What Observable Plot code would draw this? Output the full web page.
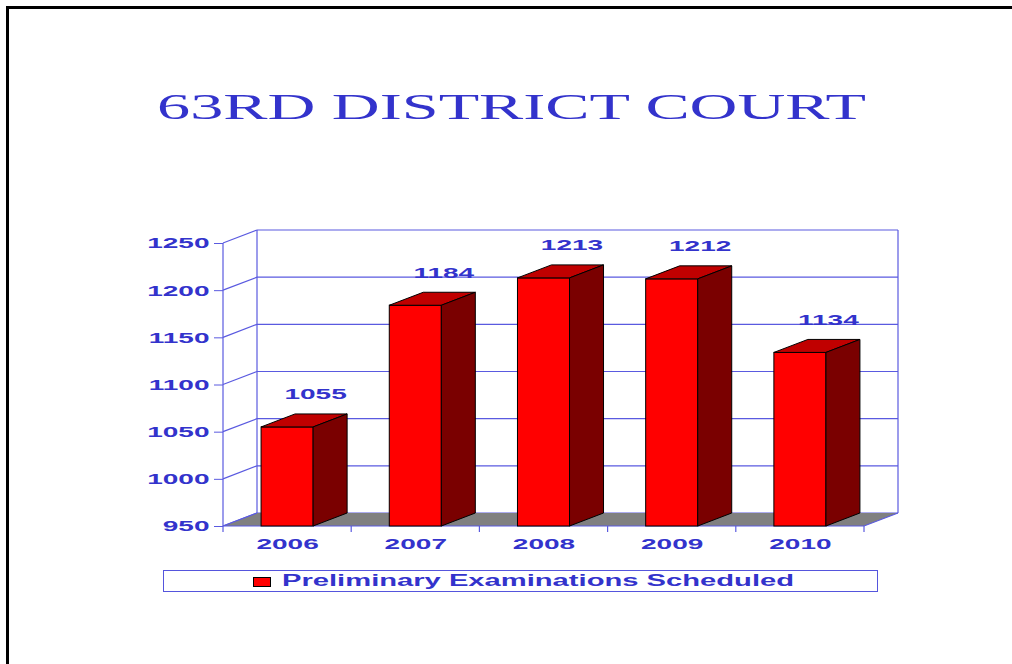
<!DOCTYPE html>
<html>
<head>
<meta charset="utf-8">
<script src="https://cdn.jsdelivr.net/npm/d3@7"></script>
<script src="https://cdn.jsdelivr.net/npm/@observablehq/plot@0.6"></script>
<style>
  html, body { margin: 0; padding: 0; background: #fff; }
  #page { position: relative; width: 1012px; height: 664px; overflow: hidden; background: #fff; }
  #frameTop { position: absolute; left: 6px; top: 6px; right: 0; height: 3px; background: #000; }
  #frameLeft { position: absolute; left: 6px; top: 6px; bottom: 0; width: 3px; background: #000; }
  #title { position: absolute; left: 0; top: 0; margin: 0; white-space: nowrap;
           font-family: "Liberation Serif", "Times New Roman", serif; font-weight: normal;
           font-size: 36px; line-height: 36px; color: #3333cc; transform-origin: 0 0; }
  #chart { position: absolute; left: 0; top: 190px; }
  #legend { position: absolute; left: 163px; top: 570px; width: 713px; height: 20px; border: 1px solid #5555dd; background: #fff; }
  #swatch { position: absolute; left: 89px; top: 6px; width: 16px; height: 8px; border: 1px solid #000; background: #ff0000; }
  #legendText { position: absolute; left: 118px; top: 2px; white-space: nowrap;
                font-family: "Liberation Sans", Arial, sans-serif; font-weight: bold;
                font-size: 16px; line-height: 16px; color: #3333cc; transform-origin: 0 0; }
</style>
</head>
<body>
<div id="page">
  <div id="frameTop"></div>
  <div id="frameLeft"></div>
  <h1 id="title"></h1>
  <div id="chart"></div>
  <div id="legend"><div id="swatch"></div><span id="legendText"></span></div>
</div>
<script>
// ---- data ----
const titleText = "63RD DISTRICT COURT";
const seriesLabel = "Preliminary Examinations Scheduled";
const years = ["2006", "2007", "2008", "2009", "2010"];
const values = [1055, 1184, 1213, 1212, 1134];
const yTicks = [950, 1000, 1050, 1100, 1150, 1200, 1250];

// ---- styling constants ----
const BLUE = "#3333cc";
const GRID = "#5a5ae0";
const DX = 34, DY = -13;           // 3D depth offset in pixels
const STRETCH = 1.82;              // horizontal stretch of the lettering

const data = years.map((year, i) => ({year, value: values[i]}));

// walls, floor and axis frame of the 3D box
function box(index, scales) {
  const {x, y} = scales;
  const [x0, x1] = x.range();
  const yb = y(yTicks[0]), yt = y(yTicks[yTicks.length - 1]);
  const g = d3.create("svg:g").attr("fill", "none").attr("stroke", GRID).attr("stroke-width", 1.2);
  for (const t of yTicks) {
    const yy = y(t);
    g.append("line").attr("x1", x0 + DX).attr("x2", x1 + DX).attr("y1", yy + DY).attr("y2", yy + DY);
    g.append("line").attr("x1", x0).attr("x2", x0 + DX).attr("y1", yy).attr("y2", yy + DY);
  }
  g.append("line").attr("x1", x0 + DX).attr("x2", x0 + DX).attr("y1", yt + DY).attr("y2", yb + DY);
  g.append("line").attr("x1", x1 + DX).attr("x2", x1 + DX).attr("y1", yt + DY).attr("y2", yb + DY);
  g.append("line").attr("x1", x0).attr("x2", x0).attr("y1", yt).attr("y2", yb);
  // floor
  g.append("path")
    .attr("d", `M${x0},${yb}L${x1},${yb}L${x1 + DX},${yb + DY}L${x0 + DX},${yb + DY}Z`)
    .attr("fill", "#808080").attr("stroke", "none");
  g.append("path")
    .attr("d", `M${x0 + DX},${yb + DY}L${x0},${yb}L${x1},${yb}L${x1 + DX},${yb + DY}`);
  // category boundary ticks
  const step = x.step(), gap = x.paddingInner() * step / 2;
  const bounds = years.map(c => x(c) - gap).concat([x(years[years.length - 1]) + x.bandwidth() + gap]);
  for (const bx of bounds) {
    g.append("line").attr("x1", bx).attr("x2", bx).attr("y1", yb).attr("y2", yb + 6);
  }
  return g.node();
}

// top and side faces of each bar
function barFaces(index, scales) {
  const {x, y} = scales;
  const bw = x.bandwidth();
  const yb = y(yTicks[0]);
  const g = d3.create("svg:g").attr("stroke", "#000").attr("stroke-width", 1).attr("stroke-linejoin", "round");
  for (const d of data) {
    const xa = x(d.year), xb = xa + bw, yt = y(d.value);
    g.append("path").attr("fill", "#c00000")
      .attr("d", `M${xa},${yt}L${xb},${yt}L${xb + DX},${yt + DY}L${xa + DX},${yt + DY}Z`);
    g.append("path").attr("fill", "#7a0000")
      .attr("d", `M${xb},${yt}L${xb + DX},${yt + DY}L${xb + DX},${yb + DY}L${xb},${yb}Z`);
  }
  return g.node();
}

const chart = Plot.plot({
  width: 1012,
  height: 380,
  marginLeft: 223,
  marginRight: 148,
  marginTop: 53,
  marginBottom: 44,
  style: {color: BLUE, fontFamily: "'Liberation Sans', Arial, sans-serif", fontWeight: "bold", fontSize: "15.4px", background: "transparent", overflow: "visible"},
  x: {type: "band", domain: years, paddingInner: 0.594, paddingOuter: 0.297, round: false, axis: null},
  y: {domain: [yTicks[0], yTicks[yTicks.length - 1]], axis: null},
  marks: [
    box,
    Plot.barY(data, {x: "year", y1: yTicks[0], y2: "value", fill: "#ff0000", stroke: "#000", strokeWidth: 1}),
    barFaces,
    Plot.axisY(yTicks, {tickSize: 9, tickPadding: 5, tickFormat: d => String(d), label: null,
                        fontSize: 15.4, fontWeight: "bold", stroke: GRID, fill: BLUE}),
    Plot.axisX({tickSize: 0, tickPadding: 12, label: null, fontSize: 15.4, fontWeight: "bold", fill: BLUE}),
    Plot.text(data, {x: "year", y: "value", text: d => String(d.value), dx: 28, dy: -33,
                     fontSize: 15.4, fontWeight: "bold", fill: BLUE})
  ]
});
document.getElementById("chart").appendChild(chart);

// stretch all lettering horizontally about its anchor point
chart.querySelectorAll("text").forEach(t => {
  let tr = t.getAttribute("transform");
  if (!tr) {
    const tx = +t.getAttribute("x") || 0, ty = +t.getAttribute("y") || 0;
    t.removeAttribute("x"); t.removeAttribute("y");
    tr = `translate(${tx},${ty})`;
  }
  t.setAttribute("transform", `${tr} scale(${STRETCH},1)`);
});

// title: ink from x=157 to x=866, cap top at y=95
const title = document.getElementById("title");
title.textContent = titleText;
const tw = title.getBoundingClientRect().width;
const ts = 709 / tw;
title.style.left = "157px";
title.style.top = "88.7px";
title.style.transform = `scaleX(${ts})`;

// legend text: from x=282 to x=794
const lt = document.getElementById("legendText");
lt.textContent = seriesLabel;
const lw = lt.getBoundingClientRect().width;
lt.style.transform = `scaleX(${512 / lw})`;
</script>
</body>
</html>
